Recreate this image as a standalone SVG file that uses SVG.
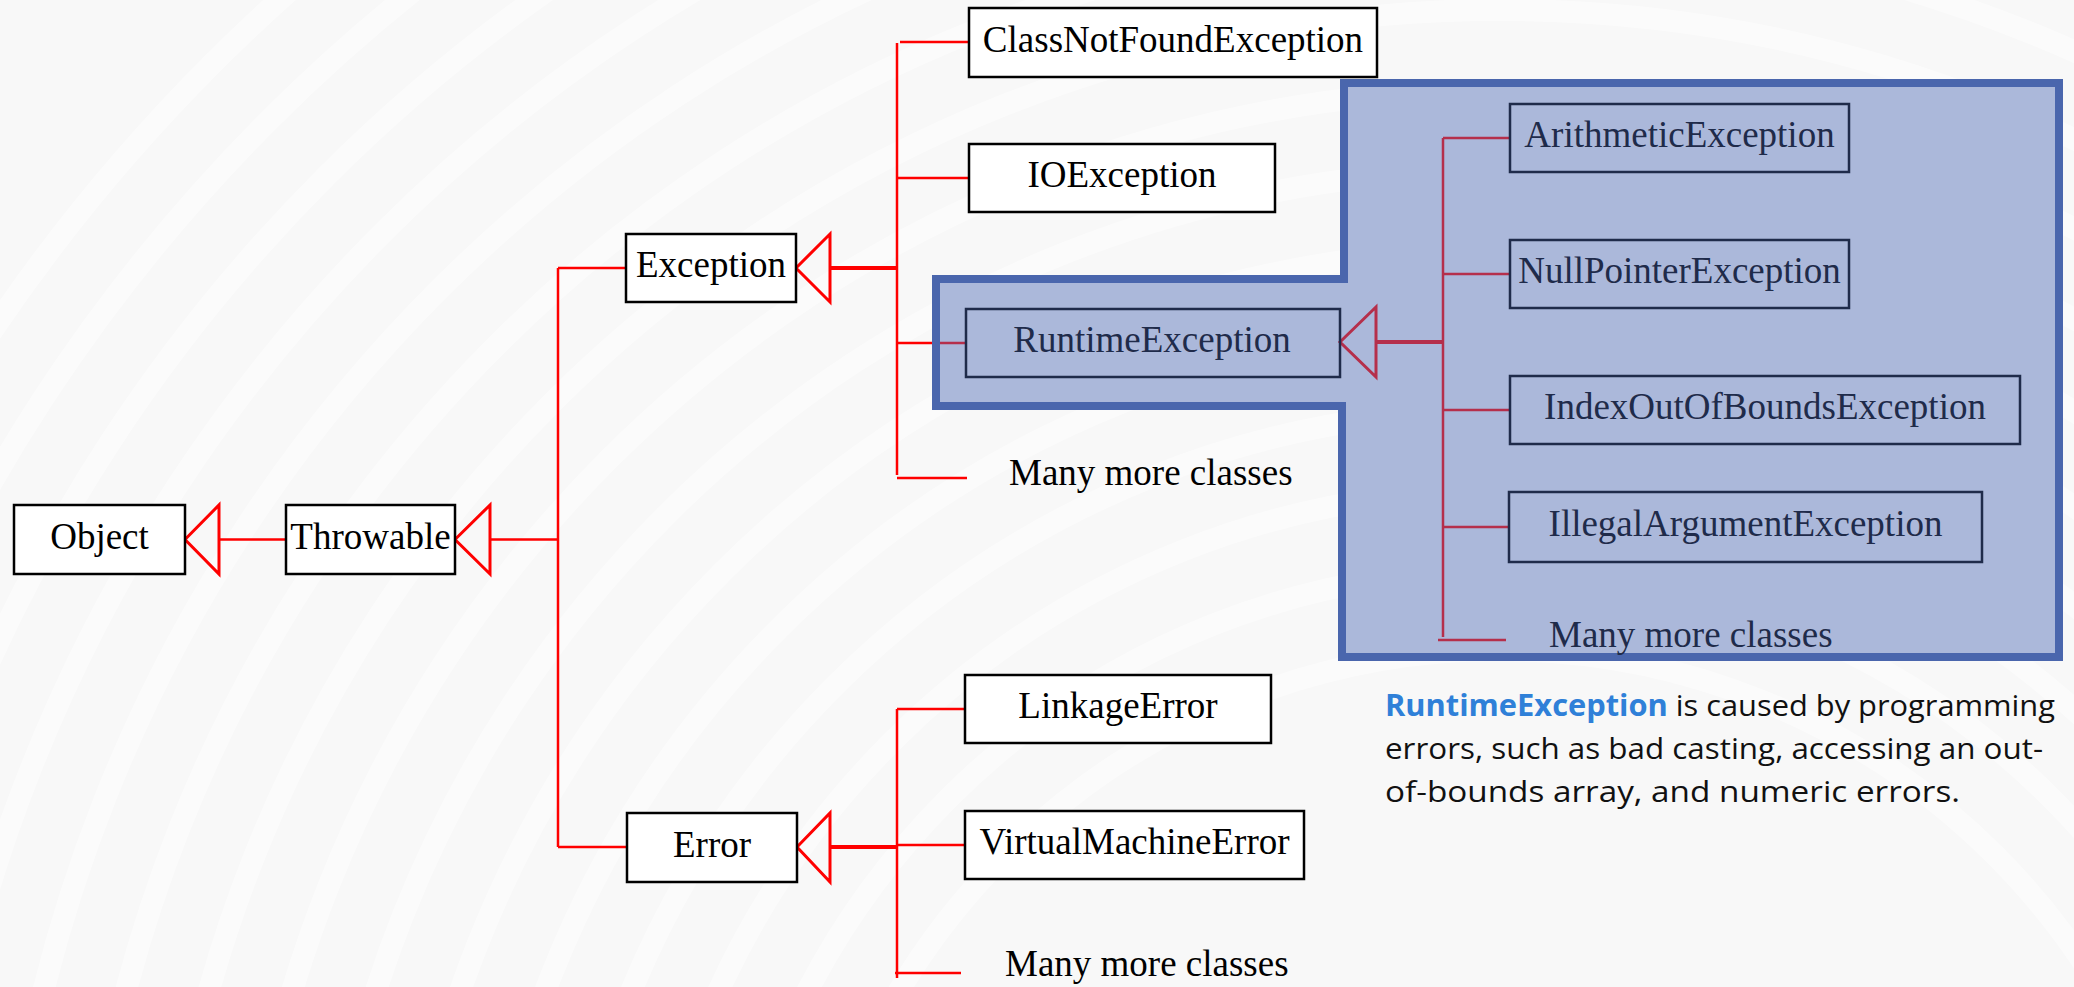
<svg xmlns="http://www.w3.org/2000/svg" width="2074" height="987" viewBox="0 0 2074 987">
<style>
.box{fill:#ffffff;stroke:#000000;stroke-width:2.5}
.bbox{fill:none;stroke:#1f2b4a;stroke-width:2.5}
.lbl{font-family:"Liberation Serif","Times New Roman",serif;font-size:37px;fill:#000000;text-anchor:middle}
.blbl{font-family:"Liberation Serif","Times New Roman",serif;font-size:37px;fill:#1f2b4a;text-anchor:middle}
.more{font-family:"Liberation Serif","Times New Roman",serif;font-size:37px;fill:#000000}
.r{stroke:#ff0000;stroke-width:2.5;fill:none}
.rt{stroke:#ff0000;stroke-width:4;fill:none}
.tri{stroke:#ff0000;stroke-width:3;fill:none;stroke-linejoin:miter}
.c{stroke:#b52f4b;stroke-width:2.5;fill:none}
.ct{stroke:#b52f4b;stroke-width:4;fill:none}
.ctri{stroke:#b52f4b;stroke-width:3;fill:none}
.note{font-family:"Open Sans","Noto Sans",sans-serif;font-size:30px;fill:#111111}
.bg{fill:none;stroke:#ffffff;stroke-width:22;opacity:0.45}
</style>
<rect x="0" y="0" width="2074" height="987" fill="#f8f8f8"/>
<g id="background">
<circle class="bg" cx="1500" cy="1350" r="700"/>
<circle class="bg" cx="1500" cy="1350" r="780"/>
<circle class="bg" cx="1500" cy="1350" r="860"/>
<circle class="bg" cx="1500" cy="1350" r="940"/>
<circle class="bg" cx="1500" cy="1350" r="1020"/>
<circle class="bg" cx="1500" cy="1350" r="1100"/>
<circle class="bg" cx="1500" cy="1350" r="1180"/>
<circle class="bg" cx="1500" cy="1350" r="1260"/>
<circle class="bg" cx="1500" cy="1350" r="1340"/>
<circle class="bg" cx="1500" cy="1350" r="1420"/>
<circle class="bg" cx="1500" cy="1350" r="1500"/>
<circle class="bg" cx="1500" cy="1350" r="1580"/>
<circle class="bg" cx="1500" cy="1350" r="1660"/>
<circle class="bg" cx="1500" cy="1350" r="1740"/>
<circle class="bg" cx="1500" cy="1350" r="1820"/>
</g>
<g id="runtime-region">
<path d="M1344,83 H2059 V657 H1342 V406 H936 V279 H1344 Z" fill="#abb8da" stroke="#4a66ad" stroke-width="8" stroke-linejoin="miter"/>
</g>
<g id="connectors">
<polygon class="tri" points="185,539.5 219,505 219,574"/>
<line class="r" x1="219" y1="539.5" x2="286" y2="539.5" stroke-width="3"/>
<polygon class="tri" points="455,539.5 490,505 490,574"/>
<line class="r" x1="490" y1="539.5" x2="558" y2="539.5" stroke-width="3"/>
<line class="r" x1="558" y1="268" x2="558" y2="847"/>
<line class="r" x1="558" y1="268" x2="626" y2="268"/>
<line class="r" x1="558" y1="847" x2="627" y2="847"/>
<polygon class="tri" points="796,268 830,234 830,302"/>
<line class="rt" x1="830" y1="268" x2="897" y2="268"/>
<line class="r" x1="897" y1="43" x2="897" y2="475"/>
<line class="r" x1="900" y1="42" x2="969" y2="42"/>
<line class="r" x1="897" y1="178" x2="969" y2="178"/>
<line class="r" x1="897" y1="343" x2="932" y2="343"/>
<line class="c" x1="940" y1="343" x2="966" y2="343"/>
<line class="r" x1="897" y1="478" x2="967" y2="478"/>
<polygon class="tri" points="797,847 830,813 830,882"/>
<line class="rt" x1="830" y1="847" x2="897" y2="847"/>
<line class="r" x1="897" y1="709" x2="897" y2="978"/>
<line class="r" x1="897" y1="709" x2="965" y2="709"/>
<line class="r" x1="897" y1="845" x2="965" y2="845"/>
<line class="r" x1="895" y1="973" x2="961" y2="973"/>
<polygon class="ctri" points="1340,342 1376,307 1376,377"/>
<line class="ct" x1="1376" y1="342" x2="1443" y2="342"/>
<line class="c" x1="1443" y1="138" x2="1443" y2="637"/>
<line class="c" x1="1443" y1="138" x2="1510" y2="138"/>
<line class="c" x1="1443" y1="274" x2="1510" y2="274"/>
<line class="c" x1="1443" y1="410" x2="1510" y2="410"/>
<line class="c" x1="1443" y1="527" x2="1509" y2="527"/>
<line class="c" x1="1438" y1="640" x2="1506" y2="640"/>
</g>
<g id="object">
<rect class="box" x="14" y="505" width="171" height="69"/>
<text class="lbl" x="99.5" y="549">Object</text>
</g>
<g id="throwable">
<rect class="box" x="286" y="505" width="169" height="69"/>
<text class="lbl" x="370.5" y="549">Throwable</text>
</g>
<g id="exception">
<rect class="box" x="626" y="234" width="170" height="68"/>
<text class="lbl" x="711" y="277">Exception</text>
</g>
<g id="error">
<rect class="box" x="627" y="813" width="170" height="69"/>
<text class="lbl" x="712" y="857">Error</text>
</g>
<g id="classnotfound">
<rect class="box" x="969" y="8" width="408" height="69"/>
<text class="lbl" x="1173" y="52">ClassNotFoundException</text>
</g>
<g id="ioexception">
<rect class="box" x="969" y="144" width="306" height="68"/>
<text class="lbl" x="1122" y="187">IOException</text>
</g>
<g id="exception-more">
<text class="more" x="1009" y="485">Many more classes</text>
</g>
<g id="runtimeexception">
<rect class="bbox" x="966" y="309" width="374" height="68"/>
<text class="blbl" x="1152" y="352">RuntimeException</text>
</g>
<g id="linkageerror">
<rect class="box" x="965" y="675" width="306" height="68"/>
<text class="lbl" x="1118" y="718">LinkageError</text>
</g>
<g id="virtualmachineerror">
<rect class="box" x="965" y="811" width="339" height="68"/>
<text class="lbl" x="1134.5" y="854">VirtualMachineError</text>
</g>
<g id="error-more">
<text class="more" x="1005" y="976">Many more classes</text>
</g>
<g id="arithmetic">
<rect class="bbox" x="1510" y="104" width="339" height="68"/>
<text class="blbl" x="1679.5" y="147">ArithmeticException</text>
</g>
<g id="nullpointer">
<rect class="bbox" x="1510" y="240" width="339" height="68"/>
<text class="blbl" x="1679.5" y="283">NullPointerException</text>
</g>
<g id="indexoutofbounds">
<rect class="bbox" x="1510" y="376" width="510" height="68"/>
<text class="blbl" x="1765" y="419">IndexOutOfBoundsException</text>
</g>
<g id="illegalargument">
<rect class="bbox" x="1509" y="492" width="473" height="70"/>
<text class="blbl" x="1745.5" y="536">IllegalArgumentException</text>
</g>
<g id="runtime-more">
<text class="more" x="1549" y="647" style="fill:#1f2b4a">Many more classes</text>
</g>
<g id="note">
<text class="note" x="1385" y="716" textLength="670" lengthAdjust="spacingAndGlyphs"><tspan font-weight="700" fill="#2f80d8">RuntimeException</tspan> is caused by programming</text>
<text class="note" x="1385" y="759" textLength="658" lengthAdjust="spacingAndGlyphs">errors, such as bad casting, accessing an out-</text>
<text class="note" x="1385" y="802" textLength="575" lengthAdjust="spacingAndGlyphs">of-bounds array, and numeric errors.</text>
</g>
</svg>
